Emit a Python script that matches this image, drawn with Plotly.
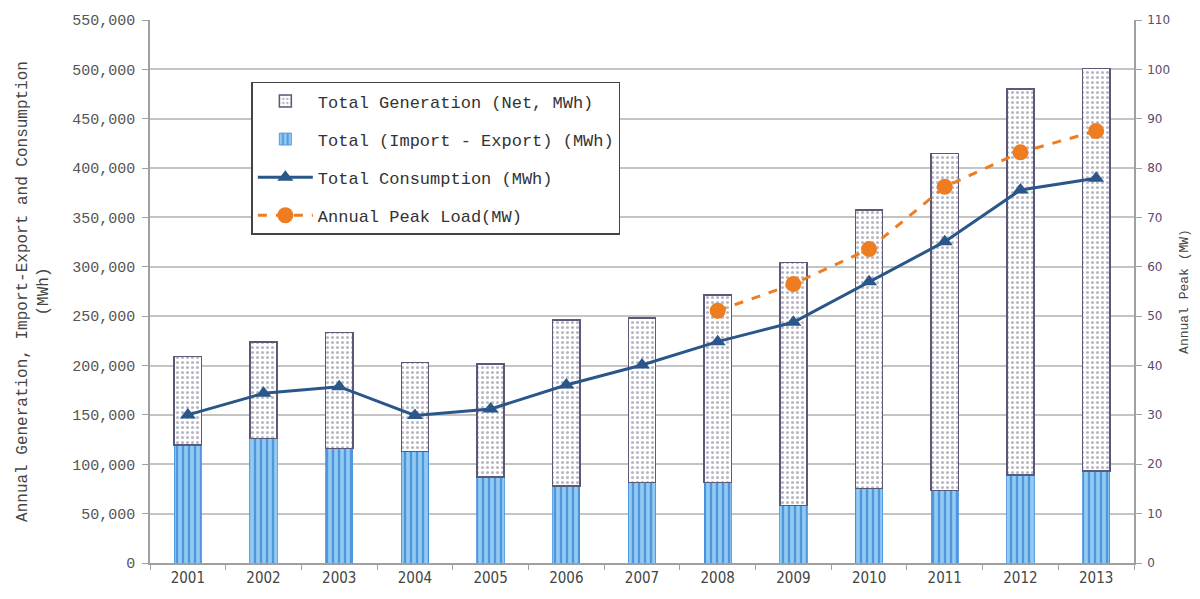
import plotly.graph_objects as go

years = ["2001", "2002", "2003", "2004", "2005", "2006", "2007",
         "2008", "2009", "2010", "2011", "2012", "2013"]
import_export = [119500, 126300, 116200, 112800, 87000, 78000, 81300,
                 81300, 58000, 75600, 73300, 89000, 93000]
generation_net = [89500, 97700, 117500, 90500, 114600, 168100, 166900,
                  190200, 246600, 282000, 341700, 391100, 408100]
consumption = [150000, 171900, 178600, 149500, 156000, 180300, 200500,
               224200, 243800, 285000, 325500, 377800, 389700]
peak_load = [None, None, None, None, None, None, None,
             51.1, 56.5, 63.6, 76.2, 83.2, 87.5]

left_ticks = list(range(0, 550001, 50000))
right_ticks = list(range(0, 111, 10))

mono = "Liberation Mono, DejaVu Sans Mono, monospace"

fig = go.Figure()

fig.add_trace(go.Bar(
    x=years, y=import_export, name="Total (Import - Export) (MWh)",
    legendgroup="b", legendrank=2,
    marker=dict(color="#92cbf3", line=dict(color="#3f8ede", width=0.8),
                pattern=dict(shape="|", fgcolor="#0f5fc2", size=6, solidity=0.4)),
))
fig.add_trace(go.Bar(
    x=years, y=generation_net, name="Total Generation (Net, MWh)",
    legendgroup="a", legendrank=1,
    marker=dict(color="white", line=dict(color="#5c5878", width=1.5),
                pattern=dict(shape=".", fgcolor="#70708a", bgcolor="white",
                             size=5, solidity=0.3)),
))
fig.add_trace(go.Scatter(
    x=years, y=consumption, name="Total Consumption (MWh)",
    legendgroup="c", legendrank=3, mode="lines+markers",
    line=dict(color="#2a5689", width=3),
    marker=dict(symbol="triangle-up", size=14, color="#2a5689"),
))
fig.add_trace(go.Scatter(
    x=years, y=peak_load, name="Annual Peak Load(MW)", yaxis="y2",
    legendgroup="d", legendrank=4, mode="lines+markers",
    line=dict(color="#ee7d22", width=3, dash="dash"),
    marker=dict(symbol="circle", size=16, color="#ee7d22"),
))

fig.update_layout(
    width=1200, height=599,
    margin=dict(l=150, r=66, t=20, b=36),
    paper_bgcolor="white", plot_bgcolor="white",
    barmode="stack", bargap=0.64,
    showlegend=True,
    legend=dict(
        x=0.103, y=0.886, xanchor="left", yanchor="top",
        bgcolor="white", bordercolor="#444444", borderwidth=1.5,
        font=dict(family=mono, size=17, color="#333333"),
        traceorder="grouped", tracegroupgap=13, itemwidth=55,
    ),
    xaxis=dict(
        type="category", range=[-0.5, 12.5], tickson="boundaries",
        ticks="outside", ticklen=5,
        tickcolor="#a0a0a0", showline=True, linecolor="#a0a0a0", linewidth=1.5,
        showgrid=False,
        tickfont=dict(family="Liberation Sans Narrow, DejaVu Sans Condensed, Arial Narrow, sans-serif",
                      size=15, color="#444444"),
    ),
    yaxis=dict(
        range=[0, 550000], tickvals=left_ticks, tickformat=",",
        ticks="outside", ticklen=6, tickcolor="#a0a0a0", ticklabelstandoff=4,
        showline=True, linecolor="#a0a0a0", linewidth=1.5,
        showgrid=True, gridcolor="#c4c4c4", gridwidth=1.5,
        tickfont=dict(family=mono, size=15, color="#555555"),
        title=dict(text="Annual Generation, Import-Export and Consumption<br>(MWh)",
                   font=dict(family=mono, size=16, color="#444444"), standoff=20),
        zeroline=False,
    ),
    yaxis2=dict(
        range=[0, 110], tickvals=right_ticks, overlaying="y", side="right",
        ticks="outside", ticklen=6, tickcolor="#a0a0a0", ticklabelstandoff=3,
        showline=True, linecolor="#a0a0a0", linewidth=1.5, showgrid=False,
        tickfont=dict(family="DejaVu Sans, Verdana, sans-serif", size=12, color="#5a4a6e"),
        title=dict(text="Annual Peak (MW)",
                   font=dict(family=mono, size=13, color="#444444"), standoff=10),
        zeroline=False,
    ),
)

fig.write_html("out.html")
